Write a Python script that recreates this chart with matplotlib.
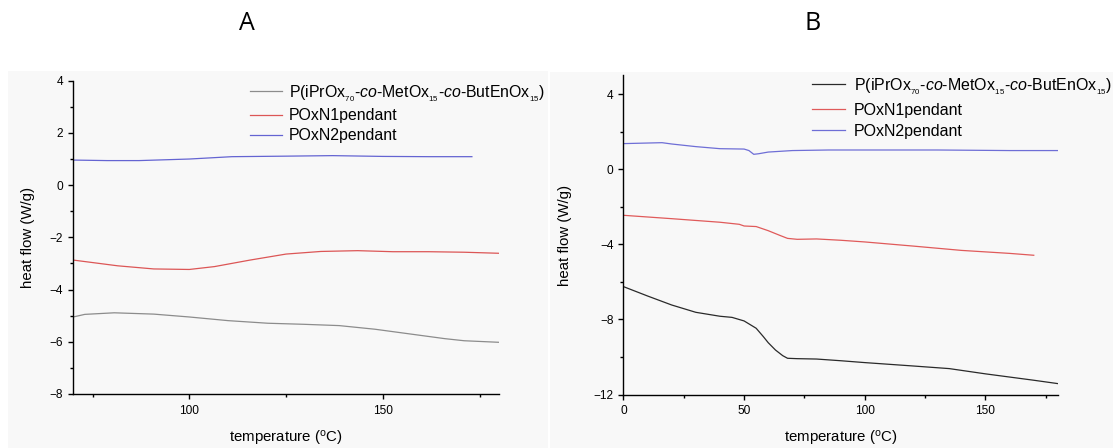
import matplotlib
matplotlib.use('Agg')
import matplotlib.pyplot as plt
from matplotlib.patches import Rectangle
from matplotlib.ticker import MultipleLocator

plt.rcParams['font.family'] = ['Liberation Sans', 'DejaVu Sans']
plt.rcParams['mathtext.fontset'] = 'custom'
plt.rcParams['mathtext.rm'] = 'Liberation Sans'
plt.rcParams['mathtext.it'] = 'Liberation Sans:italic'

# DSC traces, panel A (70-180 C)
a_black_t = [70, 73, 80.6, 90.8, 100, 110, 120.3, 129.5, 138.7, 148, 157, 166, 171, 180]
a_black_q = [-5.05, -4.95, -4.89, -4.94, -5.05, -5.19, -5.29, -5.33, -5.38, -5.52, -5.70, -5.88, -5.96, -6.02]
a_red_t = [70, 81.5, 90.8, 100, 106.5, 115.7, 125, 134, 143.5, 152.6, 161.8, 171, 180]
a_red_q = [-2.87, -3.09, -3.21, -3.23, -3.12, -2.87, -2.64, -2.54, -2.51, -2.55, -2.55, -2.57, -2.61]
a_blue_t = [70, 78.8, 87, 100, 111, 125, 137, 150, 162, 173]
a_blue_q = [0.96, 0.94, 0.94, 1.00, 1.09, 1.11, 1.13, 1.10, 1.09, 1.09]

# DSC traces, panel B (0-180 C)
b_black_t = [0, 10, 20, 30, 40, 45, 50, 55, 58, 60, 63, 66, 68, 72, 80, 90, 100, 120, 135, 150, 170, 180]
b_black_q = [-6.25, -6.75, -7.23, -7.62, -7.83, -7.89, -8.08, -8.47, -8.92, -9.24, -9.63, -9.93,
             -10.07, -10.09, -10.11, -10.20, -10.30, -10.48, -10.62, -10.90, -11.24, -11.42]
b_red_t = [0, 20, 40, 48, 50, 55, 60, 65, 68, 72, 80, 90, 100, 120, 140, 160, 170]
b_red_q = [-2.45, -2.63, -2.82, -2.93, -3.02, -3.05, -3.27, -3.53, -3.68, -3.73, -3.71, -3.78,
           -3.87, -4.09, -4.32, -4.48, -4.58]
b_blue_t = [0, 16, 20, 30, 40, 50, 52, 54, 56, 60, 70, 85, 100, 130, 160, 180]
b_blue_q = [1.37, 1.42, 1.35, 1.21, 1.10, 1.08, 1.00, 0.80, 0.83, 0.92, 1.00, 1.03, 1.03, 1.03, 1.00, 1.00]

# nested subscripts give the small, low-set indices
labels = [r'P(iPrOx$_{_{70}}$-$\it{co}$-MetOx$_{_{15}}$-$\it{co}$-ButEnOx$_{_{15}}$)',
          'POxN1pendant', 'POxN2pendant']

W, H = 1113, 448
fig = plt.figure(figsize=(W / 100, H / 100), dpi=100)

# light grey panel backgrounds
fig.patches.append(Rectangle((8 / W, 0), 540 / W, (H - 71) / H, transform=fig.transFigure,
                             facecolor='#f8f8f8', edgecolor='none', zorder=-10))
fig.patches.append(Rectangle((550 / W, 0), (W - 550) / W, (H - 72) / H, transform=fig.transFigure,
                             facecolor='#f8f8f8', edgecolor='none', zorder=-10))


def px_axes(x0, y0, x1, y1):
    # axes box given in pixel coords, origin at top left
    ax = fig.add_axes([x0 / W, 1 - y1 / H, (x1 - x0) / W, (y1 - y0) / H])
    ax.box_px = (x0, y0, x1, y1)
    return ax


def style(ax, xlab_y, ylab_x):
    x0, y0, x1, y1 = ax.box_px
    ax.set_facecolor('none')
    for s in ['top', 'right']:
        ax.spines[s].set_visible(False)
    for s in ['left', 'bottom']:
        ax.spines[s].set_linewidth(1.0)
    ax.tick_params(which='major', direction='out', length=3.8, width=1.0, labelsize=8.6)
    ax.tick_params(axis='y', which='major', pad=3.4)
    ax.tick_params(axis='x', which='major', pad=4.0)
    ax.tick_params(which='minor', direction='out', length=2.4, width=1.0)
    ax.set_xlabel(r'temperature ($^{\rm o}$C)', fontsize=10.8)
    ax.set_ylabel('heat flow (W/g)', fontsize=10.8)
    ax.xaxis.set_label_coords(0.5, -(xlab_y - y1) / (y1 - y0))
    ax.xaxis.label.set_va('center')
    ax.yaxis.set_label_coords(-(x0 - ylab_x) / (x1 - x0), 0.5)
    ax.yaxis.label.set_va('center')


def add_legend(ax, x_px, top_px, fontsize, spacing, pad):
    ax.legend(loc='upper left', bbox_to_anchor=(x_px / W, 1 - top_px / H),
              bbox_transform=fig.transFigure, frameon=False, fontsize=fontsize,
              handlelength=2.05, handletextpad=pad, borderpad=0, borderaxespad=0,
              labelspacing=spacing)


axA = px_axes(73.2, 80.7, 499.0, 394.0)
axA.plot(a_black_t, a_black_q, color='#8c8c8c', lw=0.9, label=labels[0])
axA.plot(a_red_t, a_red_q, color='#dc5656', lw=0.9, label=labels[1])
axA.plot(a_blue_t, a_blue_q, color='#6464d2', lw=0.9, label=labels[2])
axA.set_xlim(70, 180)
axA.set_ylim(-8, 4)
axA.xaxis.set_major_locator(MultipleLocator(50))
axA.xaxis.set_minor_locator(MultipleLocator(25))
axA.yaxis.set_major_locator(MultipleLocator(2))
axA.yaxis.set_minor_locator(MultipleLocator(1))
style(axA, 438, 28)
add_legend(axA, 250, 83, 11.4, 0.3, 0.4)

axB = px_axes(623.4, 75.5, 1057.9, 394.5)
axB.plot(b_black_t, b_black_q, color='#2a2a2a', lw=0.9, label=labels[0])
axB.plot(b_red_t, b_red_q, color='#e05a5a', lw=0.9, label=labels[1])
axB.plot(b_blue_t, b_blue_q, color='#6e6ed6', lw=0.9, label=labels[2])
axB.set_xlim(0, 180)
axB.set_ylim(-12, 5)
axB.xaxis.set_major_locator(MultipleLocator(50))
axB.xaxis.set_minor_locator(MultipleLocator(25))
axB.yaxis.set_major_locator(MultipleLocator(4))
axB.yaxis.set_minor_locator(MultipleLocator(2))
style(axB, 438, 565)
add_legend(axB, 812, 76, 11.5, 0.38, 0.55)

fig.text(247 / W, 1 - 24 / H, 'A', fontsize=18, family='Open Sans', ha='center', va='center')
fig.text(813 / W, 1 - 24 / H, 'B', fontsize=18, family='Open Sans', ha='center', va='center')

fig.savefig('out.png', dpi=100)
